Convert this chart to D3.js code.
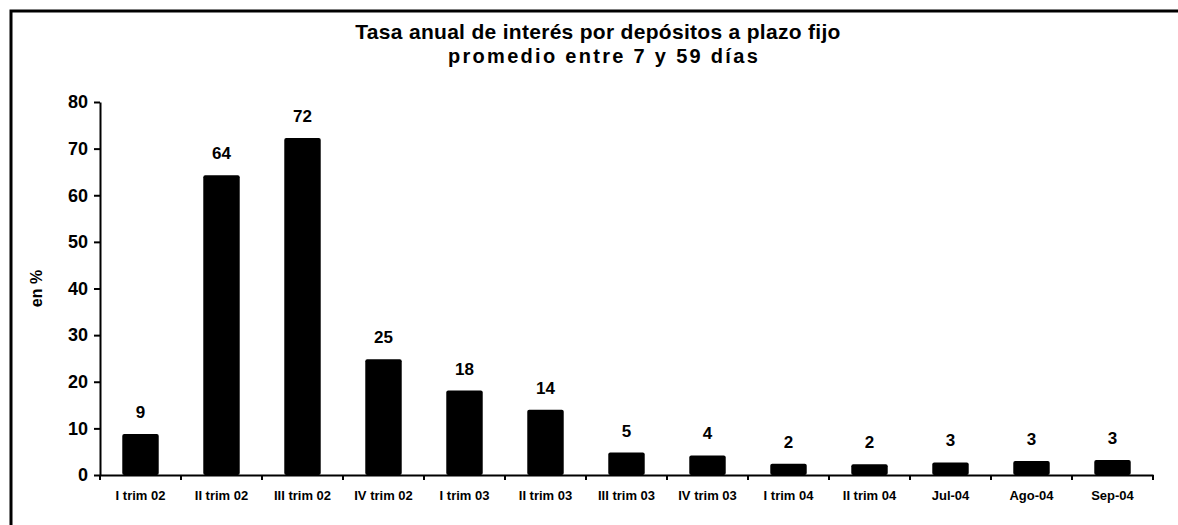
<!DOCTYPE html>
<html>
<head>
<meta charset="utf-8">
<script src="https://cdn.jsdelivr.net/npm/d3@7"></script>
<style>
  body { margin: 0; background: #fff; }
  text { font-family: "Liberation Sans", Arial, sans-serif; font-weight: bold; fill: #000; }
</style>
</head>
<body>
<script>
var categories = ["I trim 02", "II trim 02", "III trim 02", "IV trim 02", "I trim 03", "II trim 03",
                  "III trim 03", "IV trim 03", "I trim 04", "II trim 04", "Jul-04", "Ago-04", "Sep-04"];
var values = [8.8, 64.3, 72.3, 24.8, 18.1, 14.0, 4.8, 4.2, 2.4, 2.3, 2.7, 3.0, 3.2];
var yTicks = [0, 10, 20, 30, 40, 50, 60, 70, 80];

var width = 1178, height = 525;

var svg = d3.select('body').append('svg')
            .attr('width', width)
            .attr('height', height);

// marco (solo borde superior e izquierdo visibles)
svg.append('path')
   .attr('d', 'M11,525 L11,11 L1178,11')
   .attr('fill', 'none')
   .attr('stroke', '#000')
   .attr('stroke-width', 3);

svg.append('text').attr('x', 598).attr('y', 39)
   .attr('text-anchor', 'middle').style('font-size', '21px').style('letter-spacing', '0.3px')
   .text('Tasa anual de interés por depósitos a plazo fijo');
svg.append('text').attr('x', 604).attr('y', 63)
   .attr('text-anchor', 'middle').style('font-size', '20px').style('letter-spacing', '2.3px')
   .text('promedio entre 7 y 59 días');

var x = d3.scaleBand()
          .domain(categories)
          .range([100, 1153])
          .paddingInner(0.55)
          .paddingOuter(0.275);
var y = d3.scaleLinear()
          .domain([0, 80])
          .range([475, 102]);

// barras
svg.selectAll('rect.bar').data(values).enter().append('rect')
   .attr('class', 'bar')
   .attr('x', function(d, i) { return x(categories[i]); })
   .attr('y', function(d) { return y(d); })
   .attr('width', x.bandwidth())
   .attr('height', function(d) { return y(0) - y(d); })
   .attr('rx', 2)
   .attr('fill', '#000');

// etiquetas de valor
svg.selectAll('text.val').data(values).enter().append('text')
   .attr('class', 'val')
   .attr('x', function(d, i) { return x(categories[i]) + x.bandwidth() / 2; })
   .attr('y', function(d) { return y(d) - 16; })
   .attr('text-anchor', 'middle')
   .style('font-size', '17px')
   .text(function(d) { return d3.format('.0f')(d); });

// eje Y
var yAxis = d3.axisLeft(y).tickValues(yTicks).tickSize(6).tickSizeOuter(0).tickPadding(6);
var gy = svg.append('g').attr('transform', 'translate(100,0)').call(yAxis);
gy.select('.domain').attr('stroke-width', 2);
gy.selectAll('.tick line').attr('stroke-width', 2);
gy.selectAll('.tick text').style('font-size', '18px').style('font-family', '"Liberation Sans", Arial, sans-serif');

// eje X
var xAxis = d3.axisBottom(x).tickSize(0).tickPadding(16);
var gx = svg.append('g').attr('transform', 'translate(0,' + y(0) + ')').call(xAxis);
gx.select('.domain').attr('stroke-width', 2);
gx.selectAll('.tick text').style('font-size', '13px').style('font-family', '"Liberation Sans", Arial, sans-serif');

var bounds = categories.map(function(c) { return x(c) - (x.step() - x.bandwidth()) / 2; });
bounds.push(x.range()[1]);
gx.selectAll('line.sep').data(bounds).enter().append('line')
  .attr('class', 'sep')
  .attr('x1', function(d) { return d; }).attr('x2', function(d) { return d; })
  .attr('y1', 0).attr('y2', 5)
  .attr('stroke', '#000').attr('stroke-width', 2);

svg.append('text')
   .attr('transform', 'translate(42,' + ((y(0) + y(80)) / 2) + ') rotate(-90)')
   .attr('text-anchor', 'middle')
   .style('font-size', '16px')
   .text('en %');
</script>
</body>
</html>
